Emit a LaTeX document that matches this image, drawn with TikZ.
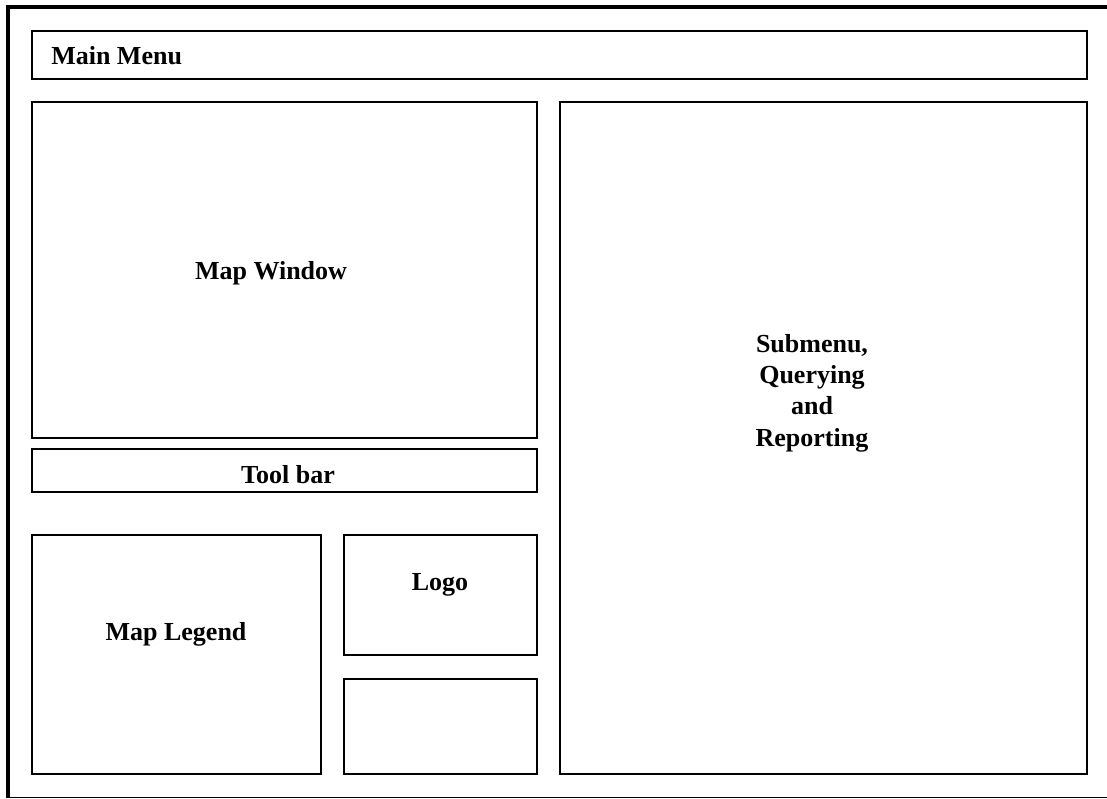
\documentclass[tikz,border=0pt]{standalone}
\usepackage{fontspec}
\setmainfont{Liberation Serif}
\usepackage{tikz}
\usetikzlibrary{positioning}
\usetikzlibrary{fit}

\begin{document}
\begin{tikzpicture}[x=0.75pt, y=-0.75pt,
    panel/.style={draw=black, line width=1.2pt, inner sep=0pt},
    lbl/.style={font=\fontsize{19.5}{23.5}\selectfont\bfseries, align=center, inner sep=0pt}]

        % Page size
        \useasboundingbox (0, 0) rectangle (1107, 799);

        % Outer frame (left and top heavy, bottom thin)
        \coordinate (ftl) at (8, 7);
        \coordinate (ftr) at (1107, 7);
        \coordinate (fbl) at (8, 797.5);
        \coordinate (fbr) at (1107, 797.5);
        \draw[line width=3pt] (ftr) -- (ftl) -- (fbl);
        \draw[line width=1.2pt] (fbl) -- (fbr);

        % Panels of the layout
        \node[panel, fit={(32, 31) (1087, 79)}] (mainmenu) {};
        \node[panel, fit={(32, 102) (537, 438)}] (mapwindow) {};
        \node[panel, fit={(32, 449) (537, 492)}] (toolbar) {};
        \node[panel, fit={(32, 535) (321, 774)}] (legend) {};
        \node[panel, fit={(344, 535) (537, 655)}] (logo) {};
        \node[panel, fit={(344, 679) (537, 774)}] (spare) {};
        \node[panel, fit={(560, 102) (1087, 774)}] (submenu) {};

        % Labels
        \node[lbl, anchor=west] (mainmenutext) at (51, 56) {Main Menu};
        \node[lbl] (mapwindowtext) at (271, 273) {Map Window};
        \node[lbl] (toolbartext) at (288, 475) {Tool bar};
        \node[lbl] (legendtext) at (176, 634) {Map Legend};
        \node[lbl] (logotext) at (440, 585) {Logo};
        \node[lbl] (submenutext) at (812, 393) {Submenu,\\ Querying\\and\\Reporting};

      \end{tikzpicture}
\end{document}
